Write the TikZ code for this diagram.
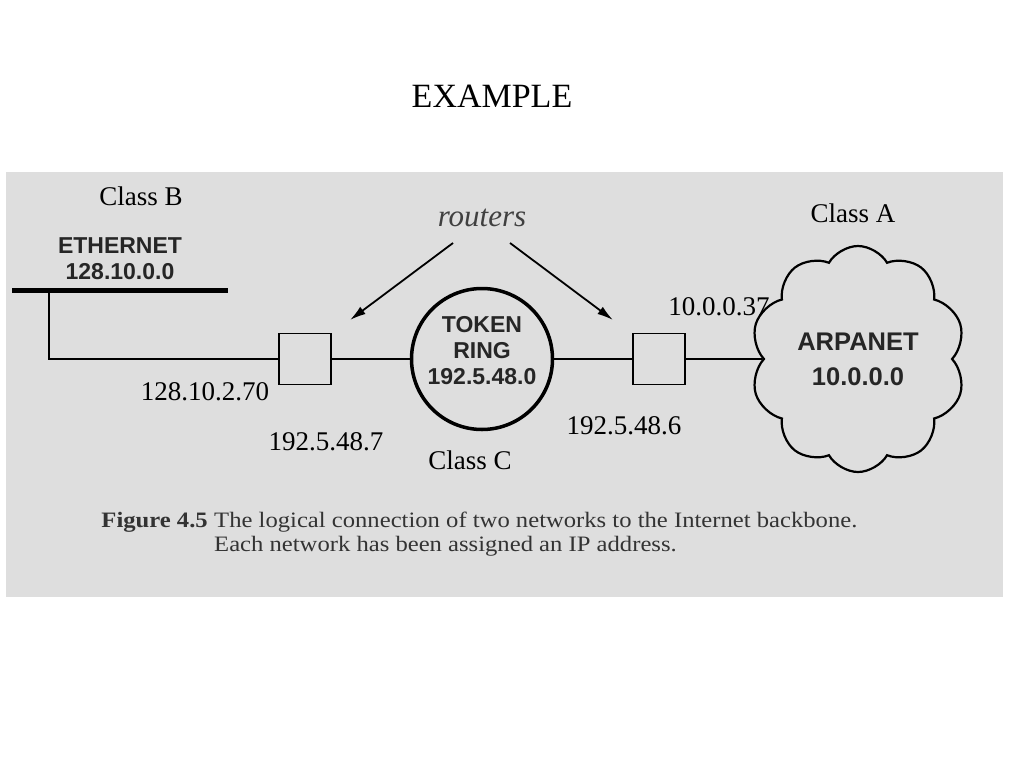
\documentclass[tikz,border=0pt]{standalone}
\usepackage{fontspec}
\setmainfont{Liberation Serif}
\setsansfont{Liberation Sans}
\newfontfamily\capfont[FakeStretch=1.12]{Liberation Serif}
\usepackage{tikz}
\usetikzlibrary{shapes,arrows.meta,positioning}
\tikzstyle{scan} = [fill=black!13]
\tikzstyle{heading} = [inner sep=0pt, font=\fontsize{34}{36}\selectfont]
\tikzstyle{addr} = [inner sep=0pt, font=\fontsize{27}{29}\selectfont]
\tikzstyle{netname} = [inner sep=0pt, align=center, text=black!85,
font=\sffamily\bfseries\fontsize{23}{26}\selectfont]
\tikzstyle{router} = [rectangle, draw, line width=1.8pt,
minimum width=52pt, minimum height=51pt]
\tikzstyle{ring} = [circle, draw, line width=3.5pt, minimum size=141pt]
\tikzstyle{netcloud} = [shape=cloud, draw, line width=2.2pt, cloud puffs=10,
cloud puff arc=120, cloud ignores aspect, minimum width=215pt,
minimum height=226pt, inner sep=0pt, align=center, text=black!85,
font=\sffamily\bfseries\fontsize{25.5}{27}\selectfont]
\tikzstyle{line} = [draw, line width=1.8pt]
\tikzstyle{bus} = [draw, line width=5pt]
\tikzstyle{pointer} = [draw, line width=1.8pt, -{Latex[length=16pt, width=9pt]}]
\tikzstyle{caption} = [anchor=base west, inner sep=0pt, text=black!80,
font=\capfont\fontsize{22}{24}\selectfont]

\begin{document}
\begin{tikzpicture}[x=1pt, y=-1pt]
\useasboundingbox (0,0) rectangle (1024,768);
% scanned figure
\fill [scan] (6,172) rectangle (1003,597);

% Place nodes
\node [heading] (head) at (492,96) {EXAMPLE};
\node [addr] (classB) at (141,196) {Class B};
\node [netname] (ethernet) at (120,259) {ETHERNET\\128.10.0.0};
\node [addr, font=\itshape\fontsize{31}{33}\selectfont, text=black!75] (routers) at (482,218) {routers};
\node [addr] (classA) at (853,213) {Class A};
\node [router] (r1) at (305,359) {};
\node [ring] (ring) at (482,359) {};
\node [netname] (ringname) at ([yshift=8.5pt]ring.center) {TOKEN\\RING\\192.5.48.0};
\node [router] (r2) at (659,359) {};
\node [netcloud] (arpanet) at (858,359) {ARPANET\\[8pt]10.0.0.0};
\node [addr] (ipA) at (719,307) {10.0.0.37};
\node [addr] (ipB) at (205,392) {128.10.2.70};
\node [addr] (ipC1) at (326,442) {192.5.48.7};
\node [addr] (ipC2) at (624,426) {192.5.48.6};
\node [addr] (classC) at (470,460) {Class C};
\node [caption, anchor=base east, font=\capfont\bfseries\fontsize{22}{24}\selectfont] (figno) at (208,527) {Figure 4.5};
\node [caption] (capA) at (214,527) {The logical connection of two networks to the Internet backbone.};
\node [caption] (capB) at (214,551) {Each network has been assigned an IP address.};
\coordinate (busL) at (12,290);
\coordinate (busR) at (228,290);
\coordinate (tap) at (49,290);
\coordinate (fromL) at (453,243);
\coordinate (tipL) at (350,320);
\coordinate (fromR) at (510,243);
\coordinate (tipR) at (613,320);

% Draw edges
\path [bus] (busL) -- (busR);
\path [line] (tap) |- (r1);
\path [line] (r1) -- (ring);
\path [line] (ring) -- (r2);
\path [line] (r2) -- (arpanet);
\path [pointer] (fromL) -- (tipL);
\path [pointer] (fromR) -- (tipR);
\end{tikzpicture}
\end{document}
